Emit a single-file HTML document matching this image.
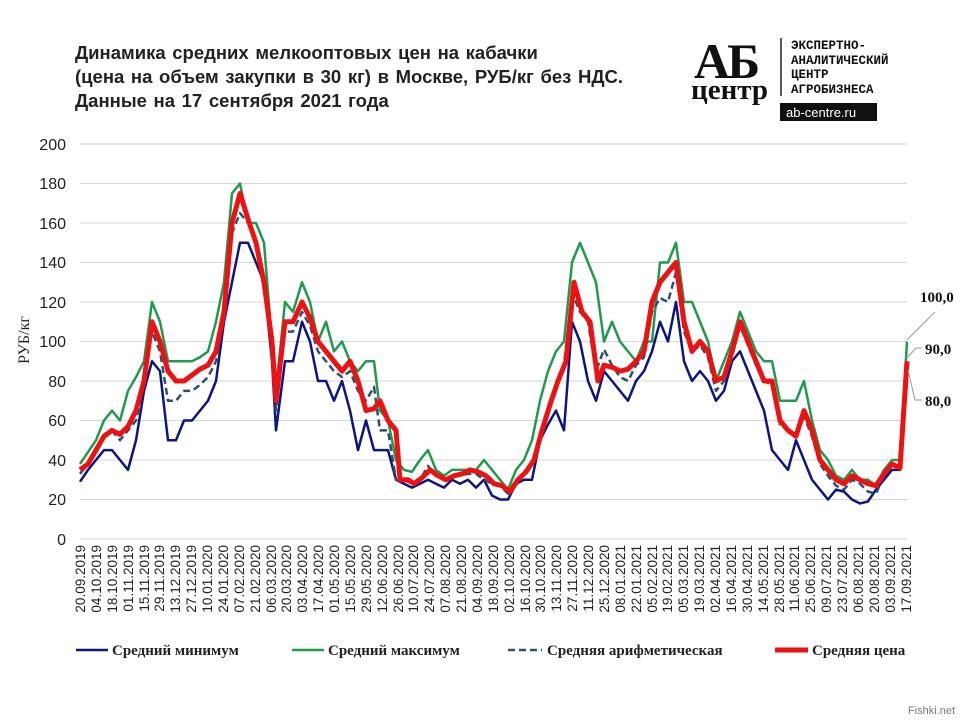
<!DOCTYPE html>
<html><head><meta charset="utf-8"><style>
body{margin:0;background:#fff;}
svg{display:block;font-family:"Liberation Sans",sans-serif;}
</style></head><body>
<svg width="960" height="720" viewBox="0 0 960 720" xmlns="http://www.w3.org/2000/svg">
<rect width="960" height="720" fill="#fff"/>
<g font-weight="bold" font-size="18.5" fill="#222" word-spacing="1.5">
<text x="75" y="59">Динамика средних мелкооптовых цен на кабачки</text>
<text x="75" y="83">(цена на объем закупки в 30 кг) в Москве, РУБ/кг без НДС.</text>
<text x="75" y="107">Данные на 17 сентября 2021 года</text>
</g>
<!-- logo -->
<g font-family="'Liberation Serif',serif" font-weight="bold" fill="#111">
<text x="694" y="78" font-size="50" letter-spacing="-3">АБ</text>
<text x="691" y="99" font-size="29">центр</text>
</g>
<line x1="781" y1="38" x2="781" y2="96" stroke="#222" stroke-width="1.5"/>
<g font-family="'Liberation Mono',monospace" font-weight="bold" font-size="12.5" fill="#111">
<text x="791" y="49">ЭКСПЕРТНО-</text>
<text x="791" y="64">АНАЛИТИЧЕСКИЙ</text>
<text x="791" y="78">ЦЕНТР</text>
<text x="791" y="93">АГРОБИЗНЕСА</text>
</g>
<rect x="780" y="103" width="97" height="18" fill="#111"/>
<text x="786" y="117" font-size="13" fill="#fff">ab-centre.ru</text>
<!-- grid -->
<g stroke="#d6d6d6" stroke-width="1">
<line x1="80" x2="907" y1="144" y2="144"/><line x1="80" x2="907" y1="183.5" y2="183.5"/>
<line x1="80" x2="907" y1="223" y2="223"/><line x1="80" x2="907" y1="262.5" y2="262.5"/>
<line x1="80" x2="907" y1="302" y2="302"/><line x1="80" x2="907" y1="341.5" y2="341.5"/>
<line x1="80" x2="907" y1="381" y2="381"/><line x1="80" x2="907" y1="420.5" y2="420.5"/>
<line x1="80" x2="907" y1="460" y2="460"/><line x1="80" x2="907" y1="499.5" y2="499.5"/>
<line x1="80" x2="907" y1="539" y2="539"/>
</g>
<g font-size="16" fill="#222" text-anchor="end">
<text x="66" y="150">200</text><text x="66" y="189">180</text><text x="66" y="229">160</text>
<text x="66" y="268">140</text><text x="66" y="308">120</text><text x="66" y="347">100</text>
<text x="66" y="387">80</text><text x="66" y="426">60</text><text x="66" y="466">40</text>
<text x="66" y="505">20</text><text x="66" y="545">0</text>
</g>
<text transform="translate(29,340) rotate(-90)" text-anchor="middle" font-family="'Liberation Serif',serif" font-size="16" fill="#222">РУБ/кг</text>
<g transform="translate(0,539) scale(1,-1.975)" fill="none" stroke-linejoin="round">
<polyline vector-effect="non-scaling-stroke" stroke="#1f9a4f" stroke-width="2.5" points="80,38 88,44 96,50 104,60 112,65 120,60 128,75 136,82 144,90 152,120 160,110 168,90 176,90 184,90 192,90 200,92 208,95 216,110 224,130 232,175 240,180 248,160 256,160 264,150 272,100 276,75 285,120 293,115 302,130 310,120 318,100 326,110 334,95 342,100 350,90 358,85 366,90 374,90 380,65 388,60 396,40 404,35 412,34 420,40 428,45 436,35 444,32 452,35 460,35 468,35 476,35 484,40 492,35 500,30 508,25 516,35 524,40 532,50 540,70 548,85 556,95 564,100 572,140 580,150 588,140 596,130 604,100 612,110 620,100 628,95 636,90 644,100 652,100 660,140 668,140 676,150 684,120 692,120 700,110 708,100 716,80 724,90 732,100 740,115 748,105 756,95 764,90 772,90 780,70 788,70 796,70 804,80 812,60 820,45 828,40 836,32 844,30 852,35 860,30 868,30 876,27 884,35 892,40 900,40 907,100"/>
<polyline vector-effect="non-scaling-stroke" stroke="#0d1580" stroke-width="2.5" points="80,29 88,35 96,40 104,45 112,45 120,40 128,35 136,50 144,75 152,90 160,85 168,50 176,50 184,60 192,60 200,65 208,70 216,80 224,110 232,130 240,150 248,150 256,140 264,130 272,90 276,55 285,90 293,90 302,110 310,100 318,80 326,80 334,70 342,80 350,65 358,45 366,60 374,45 380,45 388,45 396,30 404,28 412,26 420,28 428,30 436,28 444,26 452,30 460,28 468,30 476,26 484,30 492,22 500,20 508,20 516,28 524,30 532,30 540,50 548,58 556,65 564,55 572,110 580,100 588,80 596,70 604,85 612,80 620,75 628,70 636,80 644,85 652,95 660,110 668,100 676,120 684,90 692,80 700,85 708,80 716,70 724,75 732,90 740,95 748,85 756,75 764,65 772,45 780,40 788,35 796,50 804,40 812,30 820,25 828,20 836,25 844,24 852,20 860,18 868,19 876,25 884,30 892,35 900,35 907,80"/>
<polyline vector-effect="non-scaling-stroke" stroke="#2e4f6e" stroke-width="2.5" stroke-dasharray="7,4" points="80,33 88,38 96,45 104,53 112,55 120,50 128,55 136,60 144,78 152,105 160,95 168,70 176,70 184,75 192,75 200,78 208,82 216,90 224,112 232,155 240,165 248,160 256,150 264,128 272,95 276,65 285,105 293,105 302,115 310,108 318,95 326,90 334,85 342,82 350,85 358,75 366,70 374,77 380,55 388,55 396,30 404,30 412,28 420,30 428,37 436,32 444,30 452,32 460,32 468,33 476,33 484,30 492,28 500,27 508,23 516,30 524,33 532,38 540,53 548,65 556,78 564,88 572,125 580,115 588,110 596,85 604,96 612,88 620,82 628,80 636,88 644,92 652,115 660,122 668,120 676,135 684,105 692,95 700,98 708,92 716,75 724,80 732,92 740,108 748,98 756,88 764,80 772,78 780,58 788,55 796,52 804,62 812,52 820,38 828,32 836,27 844,25 852,30 860,28 868,24 876,23 884,32 892,37 900,37 907,90"/>
<polyline vector-effect="non-scaling-stroke" stroke="#ee1111" stroke-width="5" points="80,35 88,38 96,45 104,52 112,55 120,53 128,57 136,65 144,80 152,110 160,100 168,85 176,80 184,80 192,83 200,86 208,88 216,95 224,115 232,160 240,175 248,162 256,150 264,130 272,100 276,70 285,110 293,110 302,120 310,112 318,100 326,95 334,90 342,85 350,90 358,80 366,65 374,66 380,70 388,60 396,55 400,30 408,30 414,28 422,31 430,35 438,32 446,30 454,32 462,33 470,35 478,34 486,32 494,28 502,27 510,24 518,30 526,34 534,40 542,55 550,68 558,80 566,90 574,130 582,115 590,110 598,80 604,88 612,87 620,85 628,86 636,90 644,95 652,120 660,130 668,135 676,140 684,110 692,95 700,100 708,95 716,80 724,82 732,95 740,110 748,100 756,90 764,80 772,80 780,60 788,55 796,52 804,65 812,55 820,40 828,35 836,30 844,28 852,32 860,30 868,28 876,27 884,33 892,38 900,36 907,90"/>
</g>
<!-- data labels -->
<g stroke="#999" stroke-width="1" fill="none">
<polyline points="907,340 935,312"/><polyline points="908,357 916,348 922,348"/><polyline points="908,370 915,400 922,400"/>
</g>
<g font-family="'Liberation Serif',serif" font-weight="bold" font-size="15" fill="#111">
<text x="920" y="302">100,0</text><text x="925" y="354">90,0</text><text x="925" y="406">80,0</text>
</g>
<!-- x labels -->
<g font-size="13.5" fill="#222" text-anchor="end">
<text transform="translate(85,545) rotate(-90)">20.09.2019</text>
<text transform="translate(101,545) rotate(-90)">04.10.2019</text>
<text transform="translate(117,545) rotate(-90)">18.10.2019</text>
<text transform="translate(133,545) rotate(-90)">01.11.2019</text>
<text transform="translate(149,545) rotate(-90)">15.11.2019</text>
<text transform="translate(164,545) rotate(-90)">29.11.2019</text>
<text transform="translate(180,545) rotate(-90)">13.12.2019</text>
<text transform="translate(196,545) rotate(-90)">27.12.2019</text>
<text transform="translate(212,545) rotate(-90)">10.01.2020</text>
<text transform="translate(228,545) rotate(-90)">24.01.2020</text>
<text transform="translate(244,545) rotate(-90)">07.02.2020</text>
<text transform="translate(260,545) rotate(-90)">21.02.2020</text>
<text transform="translate(276,545) rotate(-90)">06.03.2020</text>
<text transform="translate(291,545) rotate(-90)">20.03.2020</text>
<text transform="translate(307,545) rotate(-90)">03.04.2020</text>
<text transform="translate(323,545) rotate(-90)">17.04.2020</text>
<text transform="translate(339,545) rotate(-90)">01.05.2020</text>
<text transform="translate(355,545) rotate(-90)">15.05.2020</text>
<text transform="translate(371,545) rotate(-90)">29.05.2020</text>
<text transform="translate(387,545) rotate(-90)">12.06.2020</text>
<text transform="translate(403,545) rotate(-90)">26.06.2020</text>
<text transform="translate(418,545) rotate(-90)">10.07.2020</text>
<text transform="translate(434,545) rotate(-90)">24.07.2020</text>
<text transform="translate(450,545) rotate(-90)">07.08.2020</text>
<text transform="translate(466,545) rotate(-90)">21.08.2020</text>
<text transform="translate(482,545) rotate(-90)">04.09.2020</text>
<text transform="translate(498,545) rotate(-90)">18.09.2020</text>
<text transform="translate(514,545) rotate(-90)">02.10.2020</text>
<text transform="translate(530,545) rotate(-90)">16.10.2020</text>
<text transform="translate(545,545) rotate(-90)">30.10.2020</text>
<text transform="translate(561,545) rotate(-90)">13.11.2020</text>
<text transform="translate(577,545) rotate(-90)">27.11.2020</text>
<text transform="translate(593,545) rotate(-90)">11.12.2020</text>
<text transform="translate(609,545) rotate(-90)">25.12.2020</text>
<text transform="translate(625,545) rotate(-90)">08.01.2021</text>
<text transform="translate(641,545) rotate(-90)">22.01.2021</text>
<text transform="translate(657,545) rotate(-90)">05.02.2021</text>
<text transform="translate(672,545) rotate(-90)">19.02.2021</text>
<text transform="translate(688,545) rotate(-90)">05.03.2021</text>
<text transform="translate(704,545) rotate(-90)">19.03.2021</text>
<text transform="translate(720,545) rotate(-90)">02.04.2021</text>
<text transform="translate(736,545) rotate(-90)">16.04.2021</text>
<text transform="translate(752,545) rotate(-90)">30.04.2021</text>
<text transform="translate(768,545) rotate(-90)">14.05.2021</text>
<text transform="translate(784,545) rotate(-90)">28.05.2021</text>
<text transform="translate(799,545) rotate(-90)">11.06.2021</text>
<text transform="translate(815,545) rotate(-90)">25.06.2021</text>
<text transform="translate(831,545) rotate(-90)">09.07.2021</text>
<text transform="translate(847,545) rotate(-90)">23.07.2021</text>
<text transform="translate(863,545) rotate(-90)">06.08.2021</text>
<text transform="translate(879,545) rotate(-90)">20.08.2021</text>
<text transform="translate(895,545) rotate(-90)">03.09.2021</text>
<text transform="translate(911,545) rotate(-90)">17.09.2021</text>
</g>
<!-- legend -->
<line x1="76" x2="108" y1="650" y2="650" stroke="#0d1580" stroke-width="2.5"/>
<line x1="292" x2="324" y1="650" y2="650" stroke="#1f9a4f" stroke-width="2.5"/>
<line x1="508" x2="542" y1="650" y2="650" stroke="#2e4f6e" stroke-width="2.5" stroke-dasharray="7,4"/>
<line x1="775" x2="808" y1="650" y2="650" stroke="#ee1111" stroke-width="5"/>
<g font-family="'Liberation Serif',serif" font-weight="bold" font-size="15" fill="#222">
<text x="112" y="655">Средний минимум</text>
<text x="328" y="655">Средний максимум</text>
<text x="547" y="655">Средняя арифметическая</text>
<text x="812" y="655">Средняя цена</text>
</g>
<text x="955" y="714" text-anchor="end" font-size="11" fill="#777">Fishki.net</text>
</svg>
</body></html>
